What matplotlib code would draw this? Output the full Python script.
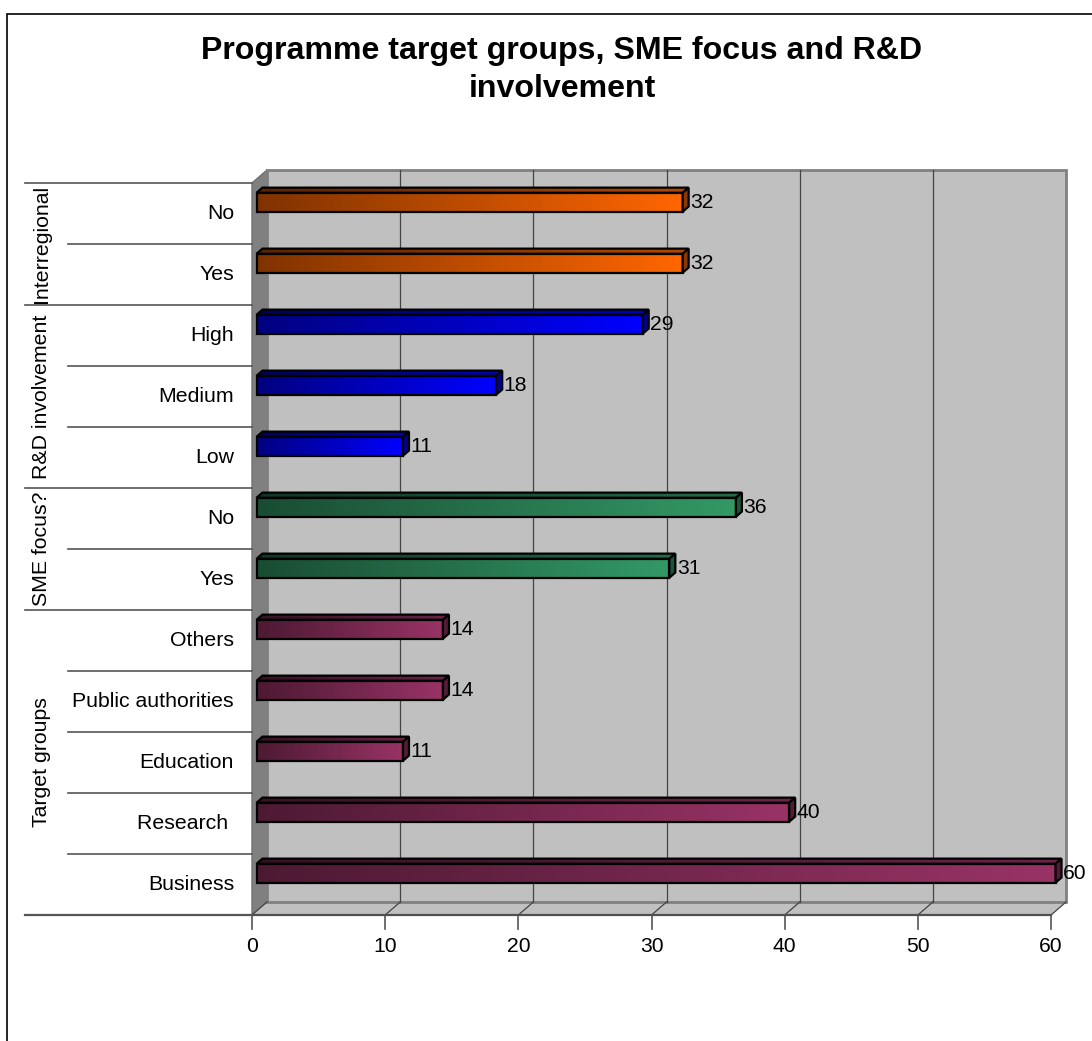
import matplotlib
matplotlib.use("Agg")
import matplotlib.pyplot as plt
import numpy as np
from matplotlib.patches import Polygon, Rectangle
from matplotlib.colors import LinearSegmentedColormap, to_rgb

plt.rcParams['font.family'] = ['Liberation Sans', 'DejaVu Sans']

title = ["Programme target groups, SME focus and R&D", "involvement"]
categories = ["Business", "Research ", "Education", "Public authorities", "Others",
              "Yes", "No",
              "Low", "Medium", "High",
              "Yes", "No"]
values = [60, 40, 11, 14, 14, 31, 36, 11, 18, 29, 32, 32]
groups = ["Target groups", "SME focus?", "R&D involvement", "Interregional"]
group_sizes = [5, 2, 3, 2]
group_colors = ["#993366", "#339966", "#0000FF", "#FF6600"]
x_ticks = [0, 10, 20, 30, 40, 50, 60]

# layout in pixels
W, H = 1092, 1041
X0, PX = 252, 13.317      # pixel of value 0, pixels per unit
Y0, ROW = 915, 61         # pixel of the floor front edge, pixels per category
DX, DY = 15 / PX, 13 / ROW  # depth offset of the back wall
XMAX = x_ticks[-1]
NROW = len(categories)


def shade(c, k):
    return tuple(np.array(to_rgb(c)) * k)


def px(x):
    return (x - X0) / PX


fig = plt.figure(figsize=(W / 100, H / 100), dpi=100)
ax = fig.add_axes([0, 0, 1, 1])
ax.set_xlim(-X0 / PX, (W - X0) / PX)
ax.set_ylim(-(H - Y0) / ROW, Y0 / ROW)
ax.axis('off')

# walls and floor
ax.add_patch(Polygon([(0, 0), (DX, DY), (DX, NROW + DY), (0, NROW)],
                     fc='#808080', ec='#707070', lw=1, zorder=1))
ax.add_patch(Polygon([(0, 0), (XMAX, 0), (XMAX + DX, DY), (DX, DY)],
                     fc='#C0C0C0', ec='none', zorder=1))
ax.add_patch(Rectangle((DX, DY), XMAX, NROW, fc='#C0C0C0', ec='#808080',
                       lw=2, zorder=1))
for t in x_ticks[1:-1]:
    ax.plot([t + DX] * 2, [DY, NROW + DY], color='#444444', lw=0.9, zorder=2)
for t in x_ticks:
    ax.plot([t, t + DX], [0, DY], color='#444444', lw=0.9, zorder=2)
    ax.plot([t, t], [0, -13.5 / ROW], color='#555555', lw=1.2, zorder=2)
    ax.text(t, -31 / ROW, str(t), ha='center', va='center', fontsize=15.2)
ax.plot([px(25), XMAX], [0, 0], color='#505050', lw=1.6, zorder=2)

# 3d bars
colors = []
for g, n in zip(group_colors, group_sizes):
    colors += [g] * n

grad = np.linspace(0, 1, 256)[None, :]
f, b, h = 0.3, 0.7, 0.155
fx, fy, bx, by = f * DX, f * DY, b * DX, b * DY
lw_bar = 1.6
for r, (v, c) in enumerate(zip(values, colors)):
    yc = r + 0.62 + fy
    cm_front = LinearSegmentedColormap.from_list('f', [shade(c, 0.5), to_rgb(c)])
    cm_top = LinearSegmentedColormap.from_list('t', [shade(c, 0.35), shade(c, 0.7)])
    ax.imshow(grad, extent=[fx, v + fx, yc - h, yc + h], aspect='auto',
              cmap=cm_front, interpolation='bilinear', zorder=3)
    ax.add_patch(Rectangle((fx, yc - h), v, 2 * h, fill=False, ec='black',
                           lw=lw_bar, zorder=4))
    top = Polygon([(fx, yc + h), (v + fx, yc + h),
                   (v + bx, yc + h + (by - fy)), (bx, yc + h + (by - fy))],
                  fill=False, ec='black', lw=lw_bar, zorder=4)
    ax.add_patch(top)
    im = ax.imshow(grad, extent=[fx, v + bx, yc + h, yc + h + (by - fy)],
                   aspect='auto', cmap=cm_top, interpolation='bilinear', zorder=3)
    im.set_clip_path(top)
    ax.add_patch(Polygon([(v + fx, yc - h), (v + bx, yc - h + (by - fy)),
                          (v + bx, yc + h + (by - fy)), (v + fx, yc + h)],
                         fc=shade(c, 0.55), ec='black', lw=lw_bar, zorder=4))
    ax.text(v + bx + 0.12, yc, str(v), ha='left', va='center', fontsize=15.2, zorder=5)

# category table on the left
bounds = np.cumsum([0] + group_sizes)
for k in range(NROW + 1):
    x_start = px(25) if k in bounds else px(68)
    ax.plot([x_start, 0], [k, k], color='#555555', lw=1.2, zorder=2)
for r, name in enumerate(categories):
    ax.text(px(234), r + 0.5, name, ha='right', va='center', fontsize=15.3)
for g, s, n in zip(groups, bounds[:-1], group_sizes):
    ax.text(px(42), s + n / 2, g, ha='center', va='center', rotation=90, fontsize=15.3)

# title and chart border
fig.text(562 / W, 1 - 59 / H, title[0], ha='center', va='baseline',
         fontsize=23.1, fontweight='bold')
fig.text(562 / W, 1 - 97 / H, title[1], ha='center', va='baseline',
         fontsize=23.1, fontweight='bold')
fig.add_artist(Rectangle((7 / W, -0.05), 1.1, (H - 14) / H + 0.05,
                         transform=fig.transFigure, fill=False, ec='black', lw=1.2))

fig.savefig('out.png', dpi=100)
